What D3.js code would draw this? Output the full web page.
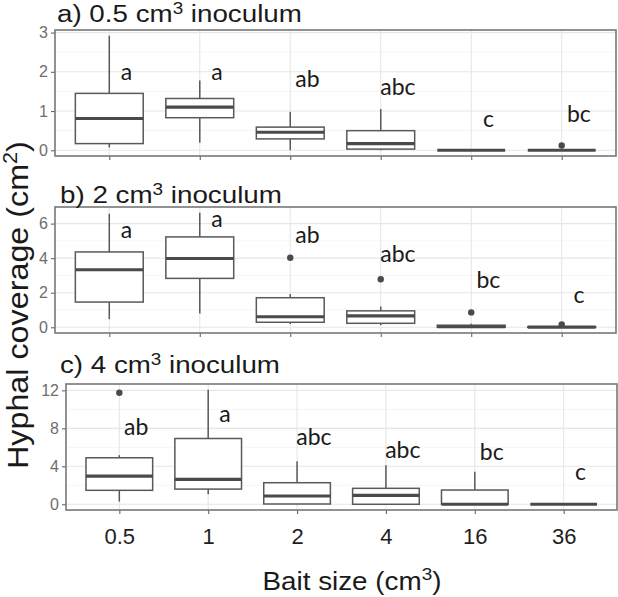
<!DOCTYPE html>
<html>
<head>
<meta charset="utf-8">
<script src="https://cdn.jsdelivr.net/npm/d3@7"></script>
<style>
  html, body { margin: 0; padding: 0; background: #fff; }
  svg { display: block; }
</style>
</head>
<body>
<svg id="chart" width="618" height="597"></svg>
<script>
// ---------------- DATA ----------------
const categories = ["0.5", "1", "2", "4", "16", "36"];

// box stats per category: [lower whisker, Q1, median, Q3, upper whisker]
const statsA = [
  [0.07, 0.17, 0.81, 1.45, 2.92],
  [0.19, 0.83, 1.10, 1.32, 1.78],
  [0.00, 0.29, 0.46, 0.59, 0.98],
  [0.00, 0.03, 0.17, 0.50, 1.05],
  [0.00, 0.00, 0.00, 0.00, 0.00],
  [0.00, 0.00, 0.00, 0.00, 0.00]
];
const outliersA = [[], [], [], [], [], [0.12]];
const lettersA = ["a", "a", "ab", "abc", "c", "bc"];
const letterYA = [1.79, 1.79, 1.62, 1.41, 0.60, 0.73];

const statsB = [
  [0.47, 1.46, 3.33, 4.36, 6.57],
  [0.80, 2.83, 3.98, 5.23, 6.63],
  [0.19, 0.29, 0.61, 1.71, 1.92],
  [0.12, 0.23, 0.66, 0.95, 1.20],
  [0.00, 0.00, 0.03, 0.12, 0.20],
  [0.00, 0.00, 0.01, 0.03, 0.03]
];
const outliersB = [[], [], [4.02], [2.78], [0.86], [0.17]];
const lettersB = ["a", "a", "ab", "abc", "bc", "c"];
const letterYB = [5.15, 5.79, 4.86, 3.80, 2.26, 1.39];

const statsC = [
  [0.28, 1.47, 2.97, 4.90, 5.17],
  [1.05, 1.60, 2.62, 6.93, 12.07],
  [0.00, 0.03, 0.87, 2.27, 4.54],
  [0.00, 0.00, 0.94, 1.68, 4.12],
  [0.00, 0.00, 0.00, 1.50, 3.42],
  [0.00, 0.00, 0.00, 0.00, 0.00]
];
const outliersC = [[11.75], [], [], [], [], []];
const lettersC = ["ab", "a", "abc", "abc", "bc", "c"];
const letterYC = [7.30, 8.70, 6.25, 4.84, 4.67, 2.56];

const ticksA = [0, 1, 2, 3];
const ticksB = [0, 2, 4, 6];
const ticksC = [0, 4, 8, 12];
const minorA = [0.5, 1.5, 2.5];
const minorB = [1, 3, 5];
const minorC = [2, 6, 10];

const titlePrefixes = ["a) 0.5 cm", "b) 2 cm", "c) 4 cm"];
const titleSuffix = " inoculum";
const yTitle = "Hyphal coverage (cm";
const xTitle = "Bait size (cm";

// ---------------- LAYOUT ----------------
const svg = d3.select("#chart");
const FONT = "'Liberation Sans', Arial, Helvetica, sans-serif";
const LETTER_FONT = "Lato, 'Open Sans', sans-serif";
const boxColor = "#595959";
const medColor = "#4a4a4a";

const panels = [
  { stats: statsA, outliers: outliersA, letters: lettersA, letterY: letterYA, ticks: ticksA, minor: minorA,
    left: 55, right: 616, top: 30, bottom: 156, title: 0, titleX: 57, titleY: 22, titleW: 245, showX: false },
  { stats: statsB, outliers: outliersB, letters: lettersB, letterY: letterYB, ticks: ticksB, minor: minorB,
    left: 55, right: 616, top: 207, bottom: 333, title: 1, titleX: 60, titleY: 203, titleW: 222, showX: false },
  { stats: statsC, outliers: outliersC, letters: lettersC, letterY: letterYC, ticks: ticksC, minor: minorC,
    left: 66, right: 617, top: 384, bottom: 510, title: 2, titleX: 60, titleY: 373, titleW: 220, showX: true }
];

function stretchText(sel, x, y, target, anchor, extra) {
  // horizontally stretch a text element to a target width
  const node = sel.node();
  const w = node.getComputedTextLength();
  const sx = target / w;
  let tx = x;
  if (anchor === "middle") tx = x - target / 2;
  sel.attr("text-anchor", "start").attr("x", 0).attr("y", 0)
     .attr("transform", `${extra || ""} translate(${tx},${y}) scale(${sx},1)`);
}

panels.forEach(p => {
  const all = p.stats.flat().concat(p.outliers.flat());
  const mn = d3.min(all), mx = d3.max(all);
  const ext = (mx - mn) * 0.05;
  const y = d3.scaleLinear().domain([mn - ext, mx + ext]).range([p.bottom, p.top]);
  const x = d3.scalePoint().domain(categories).range([p.left, p.right]).padding(0.6);
  const step = x.step();
  const bw = step * 0.75;

  const g = svg.append("g");

  // grid
  g.selectAll(".minor").data(p.minor).enter().append("line")
    .attr("x1", p.left).attr("x2", p.right)
    .attr("y1", d => y(d)).attr("y2", d => y(d))
    .attr("stroke", "#f2f2f2").attr("stroke-width", 0.8);
  g.selectAll(".major").data(p.ticks).enter().append("line")
    .attr("x1", p.left).attr("x2", p.right)
    .attr("y1", d => y(d)).attr("y2", d => y(d))
    .attr("stroke", "#e6e6e6").attr("stroke-width", 1.1);
  g.selectAll(".vmajor").data(categories).enter().append("line")
    .attr("x1", d => x(d)).attr("x2", d => x(d))
    .attr("y1", p.top).attr("y2", p.bottom)
    .attr("stroke", "#e6e6e6").attr("stroke-width", 1.1);

  // axes
  const yAxis = d3.axisLeft(y).tickValues(p.ticks).tickSize(4).tickPadding(3).tickFormat(d3.format("d"));
  const ya = g.append("g").attr("transform", `translate(${p.left},0)`).call(yAxis);
  ya.select(".domain").remove();
  ya.selectAll(".tick line").attr("stroke", "#666").attr("stroke-width", 1.1);
  ya.selectAll(".tick text").attr("font-family", FONT).attr("font-size", 16).attr("fill", "#6e6e6e");

  const xAxis = d3.axisBottom(x).tickSize(4).tickPadding(14);
  const xa = g.append("g").attr("transform", `translate(0,${p.bottom})`).call(xAxis);
  xa.select(".domain").remove();
  xa.selectAll(".tick line").attr("stroke", "#666").attr("stroke-width", 1.1);
  if (p.showX) {
    xa.selectAll(".tick text").attr("font-family", FONT).attr("font-size", 22).attr("fill", "#1e1e1e");
  } else {
    xa.selectAll(".tick text").remove();
  }

  // boxes
  categories.forEach((c, i) => {
    const s = p.stats[i];
    const cx = x(c);
    g.append("line").attr("x1", cx).attr("x2", cx).attr("y1", y(s[3])).attr("y2", y(s[4]))
      .attr("stroke", boxColor).attr("stroke-width", 1.5);
    g.append("line").attr("x1", cx).attr("x2", cx).attr("y1", y(s[0])).attr("y2", y(s[1]))
      .attr("stroke", boxColor).attr("stroke-width", 1.5);
    g.append("rect").attr("x", cx - bw / 2).attr("width", bw)
      .attr("y", y(s[3])).attr("height", Math.max(0, y(s[1]) - y(s[3])))
      .attr("fill", "#fff").attr("stroke", boxColor).attr("stroke-width", 1.5);
    g.append("line").attr("x1", cx - bw / 2).attr("x2", cx + bw / 2)
      .attr("y1", y(s[2])).attr("y2", y(s[2]))
      .attr("stroke", medColor).attr("stroke-width", 3.2);
    p.outliers[i].forEach(o => {
      g.append("circle").attr("cx", cx).attr("cy", y(o)).attr("r", 3.2).attr("fill", medColor);
    });
    g.append("text").attr("x", cx + step * 0.19).attr("y", y(p.letterY[i]))
      .attr("text-anchor", "middle").attr("font-family", LETTER_FONT).attr("font-size", 23)
      .attr("fill", "#1a1a1a").text(p.letters[i]);
  });

  // border
  g.append("rect").attr("x", p.left).attr("y", p.top)
    .attr("width", p.right - p.left).attr("height", p.bottom - p.top)
    .attr("fill", "none").attr("stroke", "#777").attr("stroke-width", 1.6);

  // title
  const t = svg.append("text").attr("font-family", FONT).attr("font-size", 23.5).attr("fill", "#1a1a1a");
  t.append("tspan").text(titlePrefixes[p.title]);
  t.append("tspan").attr("font-size", 16).attr("dy", -8).text("3");
  t.append("tspan").attr("dy", 8).text(titleSuffix);
  stretchText(t, p.titleX, p.titleY, p.titleW, "start");
});

// x title
const xt = svg.append("text").attr("font-family", FONT).attr("font-size", 25).attr("fill", "#1a1a1a");
xt.append("tspan").text(xTitle);
xt.append("tspan").attr("font-size", 17).attr("dy", -10).text("3");
xt.append("tspan").attr("dy", 10).text(")");
stretchText(xt, 352, 590, 179, "middle");

// y title
const ytg = svg.append("g").attr("transform", "translate(28,305) rotate(-90)");
const yt = ytg.append("text").attr("font-family", FONT).attr("font-size", 30).attr("fill", "#1a1a1a");
yt.append("tspan").text(yTitle);
yt.append("tspan").attr("font-size", 20).attr("dy", -11).text("2");
yt.append("tspan").attr("dy", 11).text(")");
stretchText(yt, 0, 0, 328, "middle");
</script>
</body>
</html>
